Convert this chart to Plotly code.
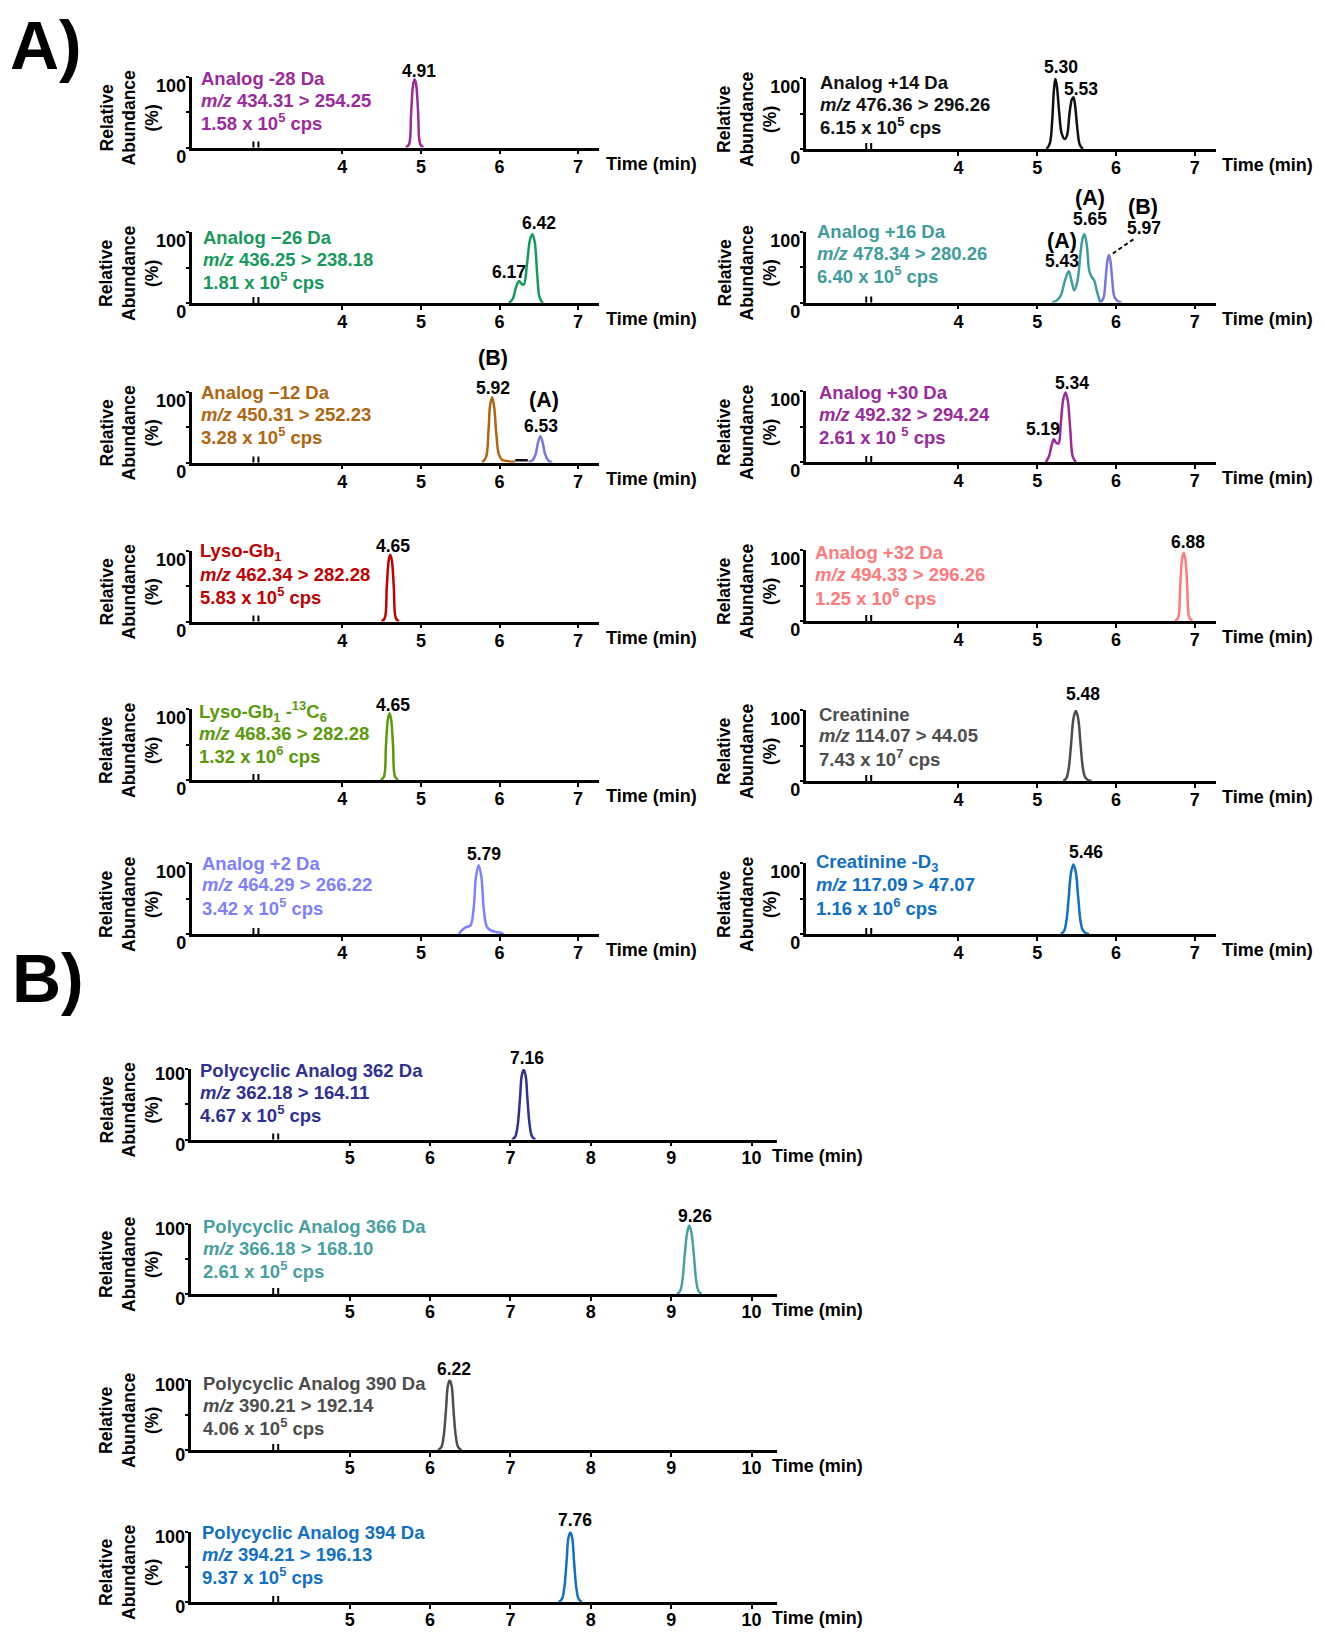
import plotly.graph_objects as go

# =====================================================================
# DATA  (retention time in min, relative abundance in %)
# =====================================================================
# ---- Panel A, left column ----
rt_m28 = [4.81, 4.85, 4.875, 4.90, 4.92, 4.94, 4.965, 4.99, 5.03]
ab_m28 = [0, 5, 48, 88, 96, 88, 48, 5, 0]

rt_m26 = [6.12, 6.17, 6.21, 6.25, 6.28, 6.31, 6.35, 6.39, 6.42, 6.45, 6.48, 6.51, 6.55]
ab_m26 = [0, 6, 22, 31, 27, 26, 55, 90, 97, 85, 40, 8, 0]

rt_m12 = [5.78, 5.83, 5.86, 5.88, 5.905, 5.93, 5.96, 5.99, 6.03, 6.09, 6.15, 6.20]
ab_m12 = [0, 8, 45, 80, 92, 80, 40, 12, 4, 2, 1, 1]
rt_m12_base = [6.20, 6.36]
ab_m12_base = [3, 3]
rt_m12_a = [6.37, 6.42, 6.46, 6.49, 6.52, 6.55, 6.58, 6.62, 6.67]
ab_m12_a = [1, 3, 12, 28, 37, 28, 12, 3, 0]

rt_gb1 = [4.50, 4.54, 4.565, 4.59, 4.61, 4.63, 4.655, 4.68, 4.72]
ab_gb1 = [0, 5, 48, 86, 94, 86, 48, 5, 0]

rt_gb1_is = [4.49, 4.53, 4.555, 4.58, 4.60, 4.62, 4.645, 4.67, 4.71]
ab_gb1_is = [0, 5, 48, 86, 94, 86, 48, 5, 0]

rt_p2 = [5.48, 5.53, 5.58, 5.63, 5.67, 5.70, 5.735, 5.77, 5.80, 5.84, 5.89, 5.95, 6.01, 6.05]
ab_p2 = [0, 6, 10, 12, 35, 80, 97, 80, 35, 10, 5, 3, 2, 0]

# ---- Panel A, right column ----
rt_p14 = [5.12, 5.16, 5.19, 5.21, 5.23, 5.25, 5.28, 5.31, 5.35, 5.38, 5.41, 5.44, 5.46, 5.48, 5.51, 5.54, 5.58]
ab_p14 = [0, 8, 40, 80, 99, 88, 50, 22, 14, 20, 50, 70, 73, 62, 28, 6, 0]

rt_p16 = [5.19, 5.25, 5.30, 5.35, 5.40, 5.44, 5.47, 5.51, 5.55, 5.58, 5.60, 5.63, 5.66, 5.69, 5.72, 5.76, 5.80]
ab_p16 = [0, 3, 10, 30, 44, 28, 17, 30, 70, 92, 96, 80, 45, 36, 32, 15, 0]
rt_p16_b = [5.80, 5.84, 5.87, 5.89, 5.91, 5.93, 5.95, 5.98, 6.02, 6.07]
ab_p16_b = [0, 6, 35, 58, 67, 58, 35, 8, 2, 0]

rt_p30 = [5.11, 5.15, 5.18, 5.21, 5.24, 5.27, 5.30, 5.33, 5.36, 5.39, 5.42, 5.45, 5.49]
ab_p30 = [0, 8, 22, 32, 27, 26, 55, 88, 98, 85, 45, 8, 0]

rt_p32 = [6.75, 6.79, 6.815, 6.84, 6.86, 6.88, 6.905, 6.93, 6.97]
ab_p32 = [0, 5, 48, 88, 96, 88, 48, 5, 0]

rt_crea = [5.33, 5.37, 5.40, 5.43, 5.46, 5.49, 5.52, 5.55, 5.58, 5.61, 5.65, 5.69]
ab_crea = [0, 4, 18, 52, 88, 99, 88, 52, 18, 5, 1, 0]

rt_crea_d3 = [5.30, 5.34, 5.37, 5.40, 5.43, 5.46, 5.49, 5.52, 5.55, 5.58, 5.62, 5.66]
ab_crea_d3 = [0, 4, 18, 52, 87, 98, 87, 52, 18, 5, 1, 0]

# ---- Panel B ----
rt_pc362 = [7.02, 7.06, 7.09, 7.12, 7.14, 7.164, 7.19, 7.21, 7.24, 7.27, 7.31]
ab_pc362 = [0, 4, 20, 60, 90, 99, 90, 60, 20, 4, 0]

rt_pc366 = [9.07, 9.11, 9.14, 9.17, 9.20, 9.225, 9.25, 9.28, 9.31, 9.34, 9.38]
ab_pc366 = [0, 4, 20, 58, 88, 97, 88, 58, 20, 4, 0]

rt_pc390 = [6.10, 6.14, 6.17, 6.20, 6.22, 6.245, 6.27, 6.29, 6.32, 6.35, 6.39]
ab_pc390 = [0, 4, 20, 60, 90, 99, 90, 60, 20, 4, 0]

rt_pc394 = [7.60, 7.64, 7.67, 7.70, 7.72, 7.746, 7.77, 7.79, 7.82, 7.85, 7.89]
ab_pc394 = [0, 4, 20, 60, 90, 99, 90, 60, 20, 4, 0]

# ---- tick labels ----
time_ticks_A = [4, 5, 6, 7]
time_ticks_B = [5, 6, 7, 8, 9, 10]
ab_ticks = [0, 100]
ab_ticktext = ["0", "100"]
ab_minor_ticks = [50]

# ---- compound descriptions ----
txt_m28 = ["Analog -28 Da", "<i>m/z</i> 434.31 > 254.25", "1.58 x 10<sup>5</sup> cps"]
txt_m26 = ["Analog \u221226 Da", "<i>m/z</i> 436.25 > 238.18", "1.81 x 10<sup>5</sup> cps"]
txt_m12 = ["Analog \u221212 Da", "<i>m/z</i> 450.31 > 252.23", "3.28 x 10<sup>5</sup> cps"]
txt_gb1 = ["Lyso-Gb<sub>1</sub>", "<i>m/z</i> 462.34 > 282.28", "5.83 x 10<sup>5</sup> cps"]
txt_gb1_is = ["Lyso-Gb<sub>1</sub> -<sup>13</sup>C<sub>6</sub>", "<i>m/z</i> 468.36 > 282.28", "1.32 x 10<sup>6</sup> cps"]
txt_p2 = ["Analog +2 Da", "<i>m/z</i> 464.29 > 266.22", "3.42 x 10<sup>5</sup> cps"]
txt_p14 = ["Analog +14 Da", "<i>m/z</i> 476.36 > 296.26", "6.15 x 10<sup>5</sup> cps"]
txt_p16 = ["Analog +16 Da", "<i>m/z</i> 478.34 > 280.26", "6.40 x 10<sup>5</sup> cps"]
txt_p30 = ["Analog +30 Da", "<i>m/z</i> 492.32 > 294.24", "2.61 x 10 <sup>5</sup> cps"]
txt_p32 = ["Analog +32 Da", "<i>m/z</i> 494.33 > 296.26", "1.25 x 10<sup>6</sup> cps"]
txt_crea = ["Creatinine", "<i>m/z</i> 114.07 > 44.05", "7.43 x 10<sup>7</sup> cps"]
txt_crea_d3 = ["Creatinine -D<sub>3</sub>", "<i>m/z</i> 117.09 > 47.07", "1.16 x 10<sup>6</sup> cps"]
txt_pc362 = ["Polycyclic Analog 362 Da", "<i>m/z</i> 362.18 > 164.11", "4.67 x 10<sup>5</sup> cps"]
txt_pc366 = ["Polycyclic Analog 366 Da", "<i>m/z</i> 366.18 > 168.10", "2.61 x 10<sup>5</sup> cps"]
txt_pc390 = ["Polycyclic Analog 390 Da", "<i>m/z</i> 390.21 > 192.14", "4.06 x 10<sup>5</sup> cps"]
txt_pc394 = ["Polycyclic Analog 394 Da", "<i>m/z</i> 394.21 > 196.13", "9.37 x 10<sup>5</sup> cps"]

# =====================================================================
# STYLE / LAYOUT
# =====================================================================
W, H = 1324, 1632
FONT = "Liberation Sans, Arial, Helvetica, sans-serif"

C_PURPLE = "#9B2A9B"
C_GREEN = "#169A5B"
C_BROWN = "#B0650F"
C_RED = "#C00000"
C_OLIVE = "#5A9A0A"
C_LAV = "#8080FF"
C_LAV2 = "#7777DD"
C_TEAL = "#3F9C9C"
C_BLACK = "#111111"
C_SALMON = "#FF7A7A"
C_GRAY = "#4D4D4D"
C_BLUE = "#1170C4"
C_NAVY = "#2E3192"
C_TEAL2 = "#48A0A0"

COLS = {
    "L": dict(x0=191.5, x1=598.5, rng=[2.08, 7.26], brk=2.90, ticks=time_ticks_A, tx=604, yt=129, shift=9, so=-3),
    "R": dict(x0=805.7, x1=1216.0, rng=[2.06, 7.27], brk=2.86, ticks=time_ticks_A, tx=1220, yt=747, shift=9, so=-3),
    "B": dict(x0=190.5, x1=776.5, rng=[3.02, 10.31], brk=4.08, ticks=time_ticks_B, tx=770, yt=129, shift=5, so=-4),
}

PK = 17.5   # peak label font size
PB = 21.5   # (A)/(B) font size

panels = [
    dict(col="L", base=147.5, top=76.5, tx=199, ty=78, text=txt_m28, color=C_PURPLE,
         traces=[(rt_m28, ab_m28, C_PURPLE)], labels=[("4.91", 4.97, 107.7, PK)]),
    dict(col="L", base=303, top=232, tx=201, ty=237, text=txt_m26, color=C_GREEN,
         traces=[(rt_m26, ab_m26, C_GREEN)], labels=[("6.42", 6.50, 113, PK), ("6.17", 6.12, 44, PK)]),
    dict(col="L", base=462.5, top=391.5, tx=199, ty=392, text=txt_m12, color=C_BROWN,
         traces=[(rt_m12, ab_m12, C_BROWN), (rt_m12_base, ab_m12_base, C_BLACK), (rt_m12_a, ab_m12_a, C_LAV2)],
         labels=[("(B)", 5.916, 147, PB), ("5.92", 5.92, 105, PK), ("(A)", 6.565, 88, PB), ("6.53", 6.53, 51, PK)]),
    dict(col="L", base=621.5, top=550.5, tx=198, ty=552, text=txt_gb1, color=C_RED,
         traces=[(rt_gb1, ab_gb1, C_RED)], labels=[("4.65", 4.65, 106, PK)]),
    dict(col="L", base=780, top=709, tx=197, ty=711, text=txt_gb1_is, color=C_OLIVE,
         traces=[(rt_gb1_is, ab_gb1_is, C_OLIVE)], labels=[("4.65", 4.65, 106, PK)]),
    dict(col="L", base=934, top=863, tx=200, ty=863, text=txt_p2, color=C_LAV,
         traces=[(rt_p2, ab_p2, C_LAV)], labels=[("5.79", 5.80, 113, PK)]),

    dict(col="R", base=149, top=78, tx=818, ty=82, text=txt_p14, color=C_BLACK,
         traces=[(rt_p14, ab_p14, C_BLACK)], labels=[("5.30", 5.30, 116, PK), ("5.53", 5.56, 85, PK)]),
    dict(col="R", base=302.5, top=231.5, tx=815, ty=231, text=txt_p16, color=C_TEAL,
         traces=[(rt_p16, ab_p16, C_TEAL), (rt_p16_b, ab_p16_b, C_LAV2)],
         labels=[("(A)", 5.67, 147, PB), ("5.65", 5.67, 117, PK), ("(A)", 5.31, 86, PB), ("5.43", 5.31, 58, PK),
                 ("(B)", 6.34, 134.5, PB), ("5.97", 6.355, 105, PK)],
         leader=(5.96, 69, 6.22, 89)),
    dict(col="R", base=462, top=391, tx=817, ty=392, text=txt_p30, color=C_PURPLE,
         traces=[(rt_p30, ab_p30, C_PURPLE)], labels=[("5.34", 5.44, 111, PK), ("5.19", 5.067, 46.5, PK)]),
    dict(col="R", base=621, top=550, tx=813, ty=552.7, text=txt_p32, color=C_SALMON,
         traces=[(rt_p32, ab_p32, C_SALMON)], labels=[("6.88", 6.92, 111, PK)]),
    dict(col="R", base=781, top=710, tx=817, ty=714, text=txt_crea, color=C_GRAY,
         traces=[(rt_crea, ab_crea, C_GRAY)], labels=[("5.48", 5.576, 122, PK)]),
    dict(col="R", base=934, top=863, tx=814, ty=863, text=txt_crea_d3, color=C_BLUE,
         traces=[(rt_crea_d3, ab_crea_d3, C_BLUE)], labels=[("5.46", 5.616, 115, PK)]),

    dict(col="B", base=1139.5, top=1069, tx=198, ty=1070, text=txt_pc362, color=C_NAVY,
         traces=[(rt_pc362, ab_pc362, C_NAVY)], labels=[("7.16", 7.20, 115, PK)]),
    dict(col="B", base=1294, top=1223.5, tx=201, ty=1226, text=txt_pc366, color=C_TEAL2,
         traces=[(rt_pc366, ab_pc366, C_TEAL2)], labels=[("9.26", 9.30, 111, PK)]),
    dict(col="B", base=1450, top=1379.5, tx=201, ty=1383, text=txt_pc390, color=C_GRAY,
         traces=[(rt_pc390, ab_pc390, C_GRAY)], labels=[("6.22", 6.296, 115, PK)]),
    dict(col="B", base=1602, top=1531.5, tx=200, ty=1532, text=txt_pc394, color=C_BLUE,
         traces=[(rt_pc394, ab_pc394, C_BLUE)], labels=[("7.76", 7.80, 116.6, PK)]),
]


def bold(size, color="black"):
    return dict(family=FONT, size=size, color=color, weight="bold")


fig = go.Figure()
layout_axes = {}
annotations = []
shapes = []

for i, p in enumerate(panels, start=1):
    c = COLS[p["col"]]
    xa = "x" if i == 1 else f"x{i}"
    ya = "y" if i == 1 else f"y{i}"
    xkey = "xaxis" if i == 1 else f"xaxis{i}"
    ykey = "yaxis" if i == 1 else f"yaxis{i}"

    layout_axes[xkey] = dict(
        domain=[c["x0"] / W, c["x1"] / W], range=c["rng"], anchor=ya,
        tickmode="array", tickvals=c["ticks"], ticks="outside", ticklen=4, tickwidth=2,
        tickcolor="black", showline=True, linewidth=2.5, linecolor="black",
        showgrid=False, zeroline=False, tickfont=bold(18), ticklabelstandoff=c["so"],
        fixedrange=True, automargin=False,
    )
    layout_axes[ykey] = dict(
        domain=[1 - p["base"] / H, 1 - p["top"] / H], range=[0, 100], anchor=xa,
        tickmode="array", tickvals=ab_ticks, ticktext=ab_ticktext, ticks="outside",
        ticklen=3, tickwidth=2, tickcolor="black", showline=True, linewidth=2.5,
        linecolor="black", showgrid=False, zeroline=False, tickfont=bold(18),
        minor=dict(tickmode="array", tickvals=ab_minor_ticks, ticks="outside", ticklen=3,
                   tickwidth=2, tickcolor="black", showgrid=False),
        ticklabelshift=c["shift"], ticklabelstandoff=-4, fixedrange=True, automargin=False,
    )

    for t, a, col in p["traces"]:
        fig.add_trace(go.Scatter(
            x=t, y=a, mode="lines", xaxis=xa, yaxis=ya, showlegend=False,
            line=dict(color=col, width=2.5, shape="spline", smoothing=1.0),
            hoverinfo="skip", cliponaxis=False,
        ))

    # compound text (3 lines)
    for k, line in enumerate(p["text"]):
        annotations.append(dict(
            x=p["tx"] / W, y=1 - (p["ty"] + 22 * k) / H, xref="paper", yref="paper",
            text=line, showarrow=False, xanchor="left", yanchor="middle",
            font=bold(18.5, p["color"]),
        ))

    # peak labels (x in minutes, y in % of the 0-100 axis)
    for txt, lx, ly, fs in p["labels"]:
        annotations.append(dict(
            x=lx, y=ly / 100.0, xref=xa, yref=f"{ya} domain", text=txt, showarrow=False,
            xanchor="center", yanchor="middle", font=bold(fs),
        ))

    # y axis title
    annotations.append(dict(
        x=c["yt"] / W, y=1 - (p["base"] - 30) / H, xref="paper", yref="paper",
        text="Relative<br>Abundance<br>(%)", textangle=-90, showarrow=False,
        xanchor="center", yanchor="middle", font=bold(17.5),
    ))

    # x axis title at right end
    annotations.append(dict(
        x=c["tx"] / W, y=1 - (p["base"] + 16) / H, xref="paper", yref="paper",
        text="Time (min)", showarrow=False, xanchor="left", yanchor="middle",
        font=bold(18),
    ))

    # axis break marks
    shapes.append(dict(type="rect", xref=xa, yref=ya, xsizemode="pixel", xanchor=c["brk"],
                       x0=-2.5, x1=2.5, ysizemode="pixel", yanchor=0, y0=-3, y1=3,
                       fillcolor="white", line=dict(width=0), layer="above"))
    for dx in (-2.5, 2.5):
        shapes.append(dict(type="line", xref=xa, yref=ya, xsizemode="pixel", xanchor=c["brk"],
                           x0=dx, x1=dx, ysizemode="pixel", yanchor=0, y0=-6, y1=6,
                           line=dict(color="black", width=2), layer="above"))

    if "leader" in p:
        lx0, ly0, lx1, ly1 = p["leader"]
        shapes.append(dict(type="line", xref=xa, yref=ya, x0=lx0, y0=ly0, x1=lx1, y1=ly1,
                           line=dict(color="black", width=2, dash="4px,3px"), layer="above"))

# section letters
annotations.append(dict(x=8 / W, y=1 - 45 / H, xref="paper", yref="paper", text="A)",
                        showarrow=False, xanchor="left", yanchor="middle", font=bold(68)))
annotations.append(dict(x=10 / W, y=1 - 978 / H, xref="paper", yref="paper", text="B)",
                        showarrow=False, xanchor="left", yanchor="middle", font=bold(68)))

fig.update_layout(
    width=W, height=H,
    margin=dict(l=0, r=0, t=0, b=0, pad=0, autoexpand=False),
    paper_bgcolor="white", plot_bgcolor="white",
    annotations=annotations, shapes=shapes, showlegend=False,
    **layout_axes,
)

fig.write_html("out.html")
